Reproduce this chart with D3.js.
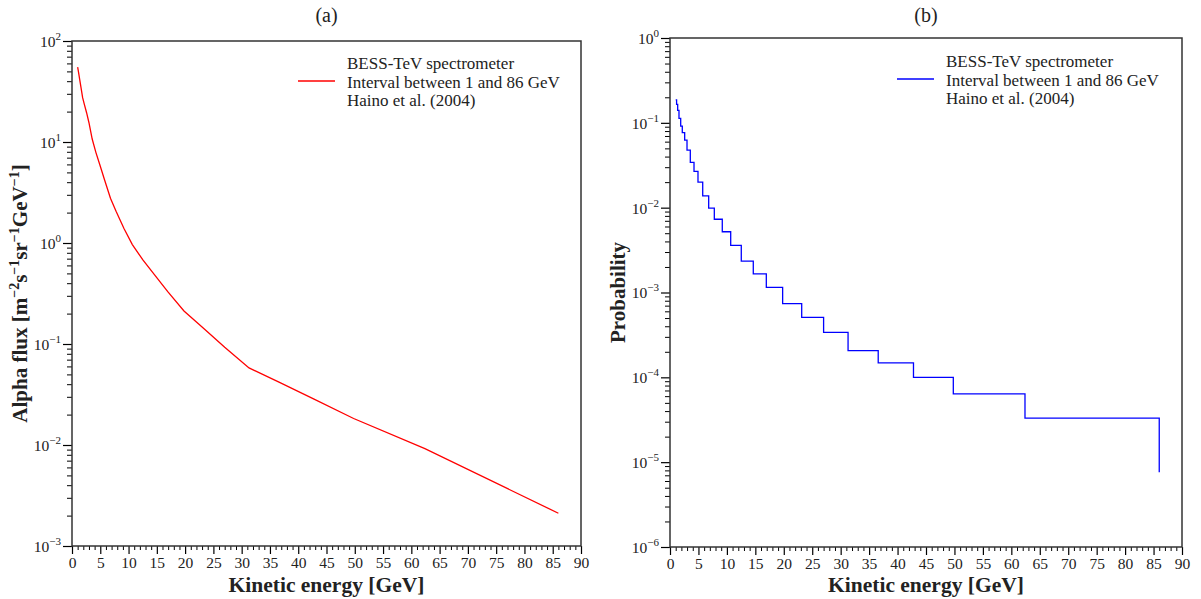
<!DOCTYPE html>
<html lang="en">
<head>
<meta charset="utf-8">
<title>BESS-TeV alpha flux and probability</title>
<script src="https://cdn.jsdelivr.net/npm/d3@7"></script>
<style>
  body { margin: 0; background: #fff; }
  text { font-family: "Liberation Serif", "DejaVu Serif", serif; fill: #222; }
</style>
</head>
<body>
<script>
// kinetic energy points [GeV]
const energy = [1.0, 1.16, 1.35, 1.58, 1.88, 2.16, 2.58, 2.99, 3.57, 4.22, 4.92, 5.75, 6.8, 7.79,
                9.19, 10.67, 12.53, 14.64, 16.93, 19.8, 23.15, 27.0, 31.3, 36.6, 42.8, 49.8, 62.4, 86.0];
// (a) alpha flux [m^-2 s^-1 sr^-1 GeV^-1]
const alphaFlux = [55, 49, 42, 35, 27.5, 23.8, 19.5, 15.6, 10.7, 7.9, 5.96, 4.23, 2.77, 2.06,
                   1.39, 0.965, 0.68, 0.48, 0.33, 0.212, 0.145, 0.093, 0.058, 0.042, 0.0285, 0.0183, 0.0092, 0.00211];
// (b) probability, drawn as steps
const probability = [0.186, 0.165, 0.14, 0.113, 0.0917, 0.0765, 0.0627, 0.0478, 0.0342, 0.0268, 0.02, 0.0138, 0.0099, 0.0073,
                     0.0052, 0.00359, 0.00234, 0.00166, 0.00115, 7.4e-4, 5.1e-4, 3.39e-4, 2.07e-4, 1.48e-4, 1.0e-4, 6.4e-5, 3.3e-5, 7.6e-6];

const xTickLabels = [0, 5, 10, 15, 20, 25, 30, 35, 40, 45, 50, 55, 60, 65, 70, 75, 80, 85, 90];
const fluxExponents = [-3, -2, -1, 0, 1, 2];
const probExponents = [-6, -5, -4, -3, -2, -1, 0];
const legendLines = ["BESS-TeV spectrometer", "Interval between 1 and 86 GeV", "Haino et al. (2004)"];

const width = 1201, height = 599;

const svg = d3.select("body").append("svg")
  .attr("width", width)
  .attr("height", height);

function supLabel(sel, e) {
  sel.text("10");
  sel.append("tspan")
    .attr("dy", -7)
    .attr("font-size", "11px")
    .text(e < 0 ? "\u2212" + (-e) : e);
}

function drawPanel(p) {
  const g = svg.append("g");

  const x = d3.scaleLinear().domain([0, 90]).range([p.left, p.right]);
  const y = d3.scaleLog().domain([Math.pow(10, p.exps[0]), Math.pow(10, p.exps[p.exps.length - 1])])
    .range([p.bottom, p.top]);

  // minor ticks
  const minorX = d3.range(0, 91).filter(v => v % 5 !== 0);
  g.append("g")
    .attr("transform", "translate(0," + p.bottom + ")")
    .call(d3.axisBottom(x).tickValues(minorX).tickSize(4).tickFormat(""))
    .call(a => a.select(".domain").remove());

  const minorY = [];
  p.exps.slice(0, -1).forEach(e => {
    for (let k = 2; k <= 9; k++) minorY.push(k * Math.pow(10, e));
  });
  g.append("g")
    .attr("transform", "translate(" + p.left + ",0)")
    .call(d3.axisLeft(y).tickValues(minorY).tickSize(5).tickFormat(""))
    .call(a => a.select(".domain").remove());

  // major ticks
  const xa = g.append("g")
    .attr("transform", "translate(0," + p.bottom + ")")
    .call(d3.axisBottom(x).tickValues(xTickLabels).tickSize(8).tickPadding(3).tickFormat(d => d));
  xa.select(".domain").remove();
  xa.selectAll("text").attr("font-size", "15.5px").attr("font-family", "Liberation Serif").attr("fill", "#222");
  xa.selectAll("line").attr("stroke-width", 1.2);

  const ya = g.append("g")
    .attr("transform", "translate(" + p.left + ",0)")
    .call(d3.axisLeft(y).tickValues(p.exps.map(e => Math.pow(10, e))).tickSize(9).tickFormat(""));
  ya.select(".domain").remove();
  ya.selectAll("line").attr("stroke-width", 1.2);
  ya.selectAll(".tick").append("text")
    .attr("x", -11)
    .attr("dy", "0.35em")
    .attr("text-anchor", "end")
    .attr("font-size", "15.5px")
    .attr("fill", "#222")
    .each(function(d) { supLabel(d3.select(this), Math.round(Math.log10(d))); });

  // frame
  g.append("rect")
    .attr("x", p.left).attr("y", p.top)
    .attr("width", p.right - p.left).attr("height", p.bottom - p.top)
    .attr("fill", "none").attr("stroke", "#333").attr("stroke-width", 1.5);

  // data line
  const line = d3.line()
    .x(d => x(d[0]))
    .y(d => y(d[1]))
    .curve(p.curve);
  g.append("path")
    .datum(energy.map((e, i) => [e, p.values[i]]))
    .attr("d", line)
    .attr("fill", "none")
    .attr("stroke", p.color)
    .attr("stroke-width", 1.3);

  // panel title
  g.append("text")
    .attr("x", (p.left + p.right) / 2)
    .attr("y", 22)
    .attr("text-anchor", "middle")
    .attr("font-size", "20px")
    .text(p.title);

  // axis titles
  g.append("text")
    .attr("x", (p.left + p.right) / 2)
    .attr("y", 592)
    .attr("text-anchor", "middle")
    .attr("font-size", "21.5px")
    .attr("font-weight", "bold")
    .text("Kinetic energy [GeV]");

  const yt = g.append("text")
    .attr("transform", "translate(" + p.yTitleX + "," + ((p.top + p.bottom) / 2) + ") rotate(-90)")
    .attr("text-anchor", "middle")
    .attr("font-size", "21px")
    .attr("font-weight", "bold");
  p.yTitle(yt);

  // legend
  g.append("line")
    .attr("x1", p.legendX).attr("x2", p.legendX + 37)
    .attr("y1", p.legendY + 18).attr("y2", p.legendY + 18)
    .attr("stroke", p.color).attr("stroke-width", 1.3);
  g.selectAll(".leg")
    .data(legendLines)
    .enter()
    .append("text")
    .attr("x", p.legendX + 49)
    .attr("y", (d, i) => p.legendY + i * 18.5 + 6)
    .attr("font-size", "17px")
    .text(d => d);
}

drawPanel({
  title: "(a)", left: 72, right: 581, top: 41, bottom: 546,
  exps: fluxExponents, values: alphaFlux, color: "#ff0000", curve: d3.curveLinear,
  yTitleX: 27, legendX: 298, legendY: 63,
  yTitle: t => {
    t.append("tspan").text("Alpha flux [m");
    t.append("tspan").attr("dy", -8).attr("font-size", "14px").text("\u22122");
    t.append("tspan").attr("dy", 8).text("s");
    t.append("tspan").attr("dy", -8).attr("font-size", "14px").text("\u22121");
    t.append("tspan").attr("dy", 8).text("sr");
    t.append("tspan").attr("dy", -8).attr("font-size", "14px").text("\u22121");
    t.append("tspan").attr("dy", 8).text("GeV");
    t.append("tspan").attr("dy", -8).attr("font-size", "14px").text("\u22121");
    t.append("tspan").attr("dy", 8).text("]");
  }
});

drawPanel({
  title: "(b)", left: 670, right: 1182, top: 38, bottom: 547,
  exps: probExponents, values: probability, color: "#0000ff", curve: d3.curveStepAfter,
  yTitleX: 625, legendX: 897, legendY: 61,
  yTitle: t => t.text("Probability")
});
</script>
</body>
</html>
